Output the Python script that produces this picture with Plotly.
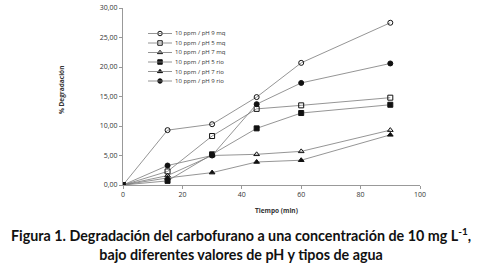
import plotly.graph_objects as go

tiempo = [0, 15, 30, 45, 60, 90]
names = ["10 ppm / pH 9 mq", "10 ppm / pH 5 mq", "10 ppm / pH 7 mq",
         "10 ppm / pH 5 rio", "10 ppm / pH 7 rio", "10 ppm / pH 9 rio"]
ph9_mq = [0, 9.3, 10.3, 14.9, 20.7, 27.5]
ph5_mq = [0, 2.3, 8.3, 12.9, 13.5, 14.8]
ph7_mq = [0, 1.6, 5.0, 5.2, 5.7, 9.3]
ph5_rio = [0, 0.7, 5.2, 9.6, 12.2, 13.6]
ph7_rio = [0, 1.2, 2.1, 3.9, 4.2, 8.5]
ph9_rio = [0, 3.3, 5.0, 13.7, 17.3, 20.6]
series = [ph9_mq, ph5_mq, ph7_mq, ph5_rio, ph7_rio, ph9_rio]
symbols = ["circle-open", "square-open", "triangle-up-open", "square", "triangle-up", "circle"]
x_ticks = [0, 20, 40, 60, 80, 100]
y_ticks = [0, 5, 10, 15, 20, 25, 30]
y_labels = ["0,00", "5,00", "10,00", "15,00", "20,00", "25,00", "30,00"]

# plot area in pixels
L, R, T, B = 123, 420, 8, 185
W, H = 482, 269
def px(x):
    return (x - L) / (R - L)
def py(y):
    return (B - y) / (B - T)

LINE = "#7a7a7a"
MK = "#111111"
fig = go.Figure()
for n, s, sym in zip(names, series, symbols):
    fig.add_trace(go.Scatter(
        x=tiempo, y=s, name=n, mode="lines+markers", showlegend=False,
        line=dict(color=LINE, width=0.8),
        marker=dict(symbol=sym, size=5, color=MK, line=dict(color=MK, width=1)),
    ))

# custom compact legend (layout helper on hidden overlay axes in paper units)
leg_y0, leg_dy = 33.5, 9.5
leg_x1, leg_x2, leg_xt = 148, 172, 173
rows = [py(leg_y0 + i * leg_dy) for i in range(len(names))]
shapes = []
annots = []
for i, n in enumerate(names):
    shapes.append(dict(type="line", xref="paper", yref="paper",
                       x0=px(leg_x1), x1=px(leg_x2), y0=rows[i], y1=rows[i],
                       line=dict(color=LINE, width=0.8)))
    annots.append(dict(text=n, xref="paper", yref="paper", x=px(leg_xt), y=rows[i],
                       xanchor="left", yanchor="middle", showarrow=False,
                       font=dict(family="Open Sans, sans-serif", size=6, color="#333333")))
fig.add_trace(go.Scatter(
    x=[px((leg_x1 + leg_x2) / 2)] * len(names), y=rows, mode="markers",
    xaxis="x2", yaxis="y2", showlegend=False, hoverinfo="skip",
    marker=dict(symbol=symbols, size=4.5, color=MK, line=dict(color=MK, width=1)),
))

axis_font = dict(family="Open Sans, sans-serif", size=7, color="#333333")
fig.update_layout(
    width=W, height=H,
    margin=dict(l=L, r=W - R, t=T, b=H - B, autoexpand=False),
    paper_bgcolor="white", plot_bgcolor="white",
    showlegend=False,
    xaxis=dict(range=[0, 100], tickvals=x_ticks, automargin=False,
               showline=True, linecolor="#999999", linewidth=1,
               ticks="outside", ticklen=3, tickcolor="#999999",
               showgrid=False, zeroline=False, tickfont=axis_font),
    yaxis=dict(range=[0, 30], tickvals=y_ticks, ticktext=y_labels, automargin=False,
               showline=True, linecolor="#999999", linewidth=1,
               ticks="outside", ticklen=3, tickcolor="#999999",
               showgrid=False, zeroline=False, tickfont=axis_font),
    xaxis2=dict(range=[0, 1], overlaying="x", visible=False, fixedrange=True),
    yaxis2=dict(range=[0, 1], overlaying="y", visible=False, fixedrange=True),
    shapes=shapes,
)
for a in annots:
    fig.add_annotation(**a)
fig.add_annotation(text="<b>Tiempo (min)</b>", xref="paper", yref="paper",
                   x=px(276), y=py(210), xanchor="center", yanchor="middle", showarrow=False,
                   font=dict(family="Open Sans, sans-serif", size=6.5, color="#333333"))
fig.add_annotation(text="<b>% Degradación</b>", xref="paper", yref="paper", textangle=-90,
                   x=px(62), y=py(90), xanchor="center", yanchor="middle", showarrow=False,
                   font=dict(family="Open Sans, sans-serif", size=6.5, color="#333333"))
fig.add_annotation(
    text="<b>Figura 1. Degradación del carbofurano a una concentración de 10 mg L<sup>-1</sup>,</b><br><b>bajo diferentes valores de pH y tipos de agua</b>",
    xref="paper", yref="paper", x=px(241), y=py(223), xanchor="center", yanchor="top",
    showarrow=False, align="center",
    font=dict(family="Lato, sans-serif", size=14.3, color="#111111"),
)
fig.write_html("out.html", config={"displayModeBar": False},
               post_script="document.body.style.margin='0';document.body.style.overflow='hidden';")
